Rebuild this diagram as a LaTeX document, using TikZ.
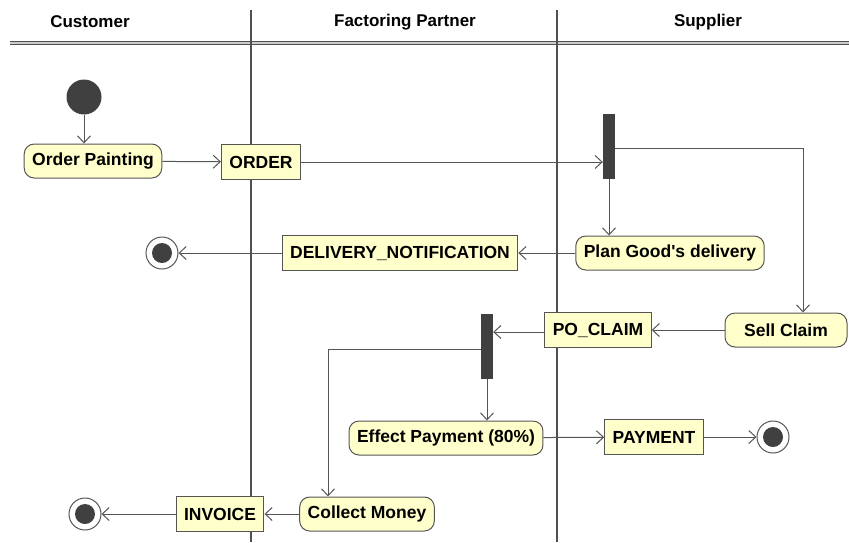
\documentclass[tikz,border=0pt]{standalone}
\usepackage{fontspec}
\setmainfont{Liberation Sans}
\usepackage{tikz}
\usetikzlibrary{arrows.meta}
\definecolor{actfill}{RGB}{255,255,204}
\definecolor{actline}{RGB}{85,85,85}
\definecolor{bardark}{RGB}{64,64,64}
\definecolor{laneline}{RGB}{80,80,80}

\tikzset{
  action/.style={draw=actline, fill=actfill, rounded corners=10pt, line width=1pt,
                 minimum height=34pt, inner xsep=8pt, font=\fontsize{17.5}{20}\selectfont\bfseries},
  objbox/.style={draw=actline, fill=actfill, line width=1pt,
                 minimum height=35pt, inner xsep=8pt, font=\fontsize{17.5}{20}\selectfont\bfseries},
  forkbar/.style={fill=bardark, inner sep=0pt, minimum width=12pt, minimum height=65pt},
  startnode/.style={circle, fill=bardark, minimum size=35pt, inner sep=0pt},
  endnode/.style={circle, draw=actline, fill=white, line width=1pt, minimum size=32pt, inner sep=0pt,
                  path picture={\fill[bardark] (path picture bounding box.center) circle (10pt);}},
  flow/.style={draw=actline, line width=1pt, -{Straight Barb[length=7pt,width=13pt]}},
  lanehead/.style={font=\fontsize{17}{20}\selectfont\bfseries}
}

\begin{document}
\begin{tikzpicture}[x=1pt, y=-1pt]
  \useasboundingbox (0,0) rectangle (849,542);
  % --- swimlanes ----------------------------------------------------------
  \draw[laneline, line width=1pt, double=gray!40, double distance=1.2pt] (10,43) -- (849,43);
  \foreach \lx in {251,557}
     \draw[laneline, line width=2.8pt] (\lx,10) -- (\lx,542);
  \node[lanehead] (hcust) at (90,22) {Customer};
  \node[lanehead] (hfact) at (405,22) {Factoring Partner};
  \node[lanehead] (hsupp) at (708,22) {Supplier};

  % --- actions, objects, bars ---------------------------------------------
  \node[startnode] (start) at (84,97) {};
  \node[action] (op) at (93,161) {Order Painting};
  \node[objbox] (order) at (261,162) {ORDER};
  \node[forkbar] (bar1) at (609,146) {};
  \node[action] (plan) at (670,253) {Plan Good\textquotesingle s delivery};
  \node[objbox] (dn) at (400,253) {DELIVERY\_NOTIFICATION};
  \node[endnode] (end1) at (162,253) {};
  \node[action, minimum width=122pt] (sell) at (786,330) {Sell Claim};
  \node[objbox] (po) at (598,330) {PO\_CLAIM};
  \node[forkbar] (bar2) at (487,346) {};
  \node[action] (effect) at (446,438) {Effect Payment (80\%)};
  \node[objbox] (pay) at (654,437) {PAYMENT};
  \node[endnode] (end2) at (773,437) {};
  \node[action] (collect) at (367,514) {Collect Money};
  \node[objbox] (inv) at (220,514) {INVOICE};
  \node[endnode] (end3) at (85,514) {};
  \coordinate (cdrop) at ([xshift=-39pt]collect.north);

  % --- control and object flows --------------------------------------------
  \draw[flow] (start) -- (start |- op.north);
  \draw[flow] (op) -- (order);
  \draw[flow] (order.east) -- (order.east -| bar1.west);
  \draw[flow] (bar1.south) -- (bar1.south |- plan.north);
  \draw[flow] ([yshift=-2pt]bar1.east) -| ([xshift=17pt]sell.north);
  \draw[flow] (plan) -- (dn);
  \draw[flow] (dn) -- (end1);
  \draw[flow] (sell) -- (po);
  \draw[flow] ([yshift=-2pt]po.west) -- ([yshift=-2pt]po.west -| bar2.east);
  \draw[flow] (bar2.south) -- (bar2.south |- effect.north);
  \draw[flow] ([yshift=-3pt]bar2.west) -| (cdrop);
  \draw[flow] (effect) -- (pay);
  \draw[flow] (pay) -- (end2);
  \draw[flow] (collect) -- (inv);
  \draw[flow] (inv) -- (end3);
\end{tikzpicture}
\end{document}
